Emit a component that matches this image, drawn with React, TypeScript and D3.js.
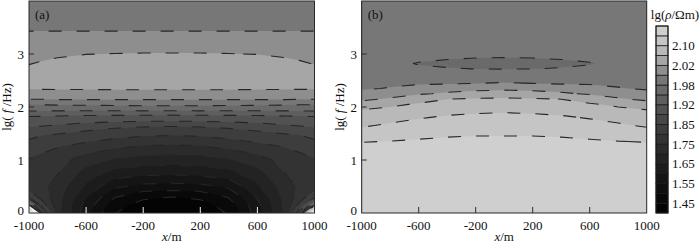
import React from 'react';
import * as d3 from 'd3';

const W = 700;
const H = 244;
const FONT = "'Liberation Serif', 'Times New Roman', serif";

// contour levels lg(rho/Ωm)
const thresholds = [1.40, 1.45, 1.50, 1.55, 1.60, 1.65, 1.70, 1.75, 1.80, 1.85, 1.88, 1.92, 1.95, 1.98, 2.00, 2.02, 2.06, 2.10, 2.14, 2.18];
const bandColors = ['#040404', '#090909', '#0f0f0f', '#151515', '#1c1c1c', '#232323', '#2b2b2b', '#333333', '#3d3d3d', '#474747', '#525252', '#5e5e5e', '#6a6a6a', '#777777', '#8e8e8e', '#a6a6a6', '#b9b9b9', '#c5c5c5', '#cfcfcf'];
const extraThresholds = [2.22, 2.28];
const overColors = ['#dcdcdc', '#e8e8e8', '#f6f6f6'];
const cbLabels = [2.10, 2.02, 1.98, 1.92, 1.85, 1.75, 1.65, 1.55, 1.45];
const xTicks = [-1000, -600, -200, 200, 600, 1000];
const yTicks = [0, 1, 2, 3];

// panel (a): grid rows from lg f = 0 upward, columns x = aX
const aX = [-1000, -900, -800, -600, -400, -200, 0, 200, 400, 600, 800, 900, 1000];
const aY = [0, 0.15, 0.3, 0.5, 0.75, 1.0, 1.25, 1.5, 1.75, 2.0, 2.15, 2.3, 2.5, 2.75, 3.0, 3.25, 3.5, 3.75, 4.0];
const aRows = [
  [2.35, 1.90, 1.72, 1.57, 1.452, 1.415, 1.41, 1.415, 1.455, 1.575, 1.72, 1.90, 2.33],
  [2.00, 1.82, 1.72, 1.58, 1.47, 1.43, 1.425, 1.43, 1.472, 1.585, 1.72, 1.82, 1.99],
  [1.84, 1.775, 1.722, 1.605, 1.502, 1.46, 1.449, 1.46, 1.504, 1.607, 1.722, 1.775, 1.84],
  [1.775, 1.758, 1.732, 1.64, 1.56, 1.535, 1.53, 1.535, 1.562, 1.642, 1.732, 1.758, 1.775],
  [1.765, 1.762, 1.752, 1.68, 1.63, 1.615, 1.61, 1.615, 1.632, 1.682, 1.752, 1.762, 1.765],
  [1.795, 1.785, 1.772, 1.725, 1.695, 1.68, 1.675, 1.68, 1.697, 1.727, 1.772, 1.785, 1.795],
  [1.835, 1.812, 1.802, 1.78, 1.76, 1.745, 1.74, 1.745, 1.762, 1.782, 1.802, 1.812, 1.835],
  [1.862, 1.856, 1.852, 1.84, 1.825, 1.815, 1.81, 1.815, 1.826, 1.841, 1.852, 1.856, 1.862],
  [1.90, 1.898, 1.895, 1.89, 1.888, 1.886, 1.885, 1.886, 1.888, 1.89, 1.895, 1.898, 1.90],
  [1.972, 1.972, 1.973, 1.974, 1.975, 1.976, 1.976, 1.976, 1.975, 1.974, 1.973, 1.972, 1.972],
  [2.001, 2.001, 2.002, 2.002, 2.002, 2.002, 2.002, 2.002, 2.002, 2.002, 2.002, 2.001, 2.001],
  [2.018, 2.018, 2.018, 2.018, 2.018, 2.018, 2.018, 2.018, 2.018, 2.018, 2.018, 2.018, 2.018],
  [2.030, 2.030, 2.031, 2.032, 2.033, 2.033, 2.033, 2.033, 2.033, 2.032, 2.031, 2.030, 2.030],
  [2.022, 2.026, 2.030, 2.036, 2.039, 2.040, 2.040, 2.040, 2.039, 2.036, 2.030, 2.026, 2.022],
  [2.012, 2.014, 2.016, 2.0195, 2.0205, 2.021, 2.021, 2.021, 2.0205, 2.0195, 2.016, 2.014, 2.012],
  [2.008, 2.008, 2.008, 2.008, 2.008, 2.008, 2.008, 2.008, 2.008, 2.008, 2.008, 2.008, 2.008],
  [1.997, 1.997, 1.997, 1.997, 1.997, 1.997, 1.997, 1.997, 1.997, 1.997, 1.997, 1.997, 1.997],
  [1.993, 1.993, 1.993, 1.993, 1.993, 1.993, 1.993, 1.993, 1.993, 1.993, 1.993, 1.993, 1.993],
  [1.991, 1.991, 1.991, 1.991, 1.991, 1.991, 1.991, 1.991, 1.991, 1.991, 1.991, 1.991, 1.991],
];

// panel (b)
const bX = [-1000, -800, -600, -400, -200, 0, 200, 400, 600, 800, 1000];
const bY = [0, 0.5, 1.0, 1.2, 1.35, 1.5, 1.65, 1.8, 1.95, 2.05, 2.15, 2.25, 2.35, 2.45, 2.6, 2.72, 2.82, 2.92, 3.05, 3.3, 3.6, 4.0];
const bRows = [
  [2.165, 2.165, 2.165, 2.165, 2.165, 2.165, 2.165, 2.165, 2.165, 2.165, 2.165],
  [2.165, 2.165, 2.165, 2.165, 2.165, 2.165, 2.165, 2.165, 2.165, 2.165, 2.165],
  [2.165, 2.165, 2.165, 2.165, 2.165, 2.165, 2.165, 2.165, 2.165, 2.165, 2.165],
  [2.151, 2.153, 2.156, 2.159, 2.161, 2.161, 2.161, 2.159, 2.156, 2.153, 2.151],
  [2.1385, 2.1408, 2.144, 2.147, 2.149, 2.149, 2.149, 2.147, 2.144, 2.1408, 2.1385],
  [2.1163, 2.1235, 2.1295, 2.134, 2.136, 2.136, 2.136, 2.134, 2.1295, 2.1235, 2.1163],
  [2.0953, 2.1059, 2.1137, 2.120, 2.122, 2.123, 2.122, 2.120, 2.1137, 2.1059, 2.0953],
  [2.0776, 2.0875, 2.0974, 2.105, 2.108, 2.110, 2.108, 2.105, 2.0974, 2.0875, 2.0776],
  [2.0595, 2.0688, 2.078, 2.087, 2.092, 2.094, 2.092, 2.087, 2.078, 2.0688, 2.0595],
  [2.0314, 2.0514, 2.065, 2.073, 2.078, 2.080, 2.078, 2.073, 2.065, 2.0514, 2.0314],
  [2.0145, 2.0229, 2.0415, 2.0595, 2.064, 2.066, 2.064, 2.0595, 2.0415, 2.0229, 2.0145],
  [2.0055, 2.011, 2.0167, 2.024, 2.032, 2.036, 2.032, 2.024, 2.0167, 2.011, 2.0055],
  [1.998, 2.001, 2.0056, 2.0094, 2.011, 2.0125, 2.011, 2.0094, 2.0056, 2.001, 1.998],
  [1.996, 1.997, 1.998, 1.998, 1.9995, 2.001, 1.9995, 1.998, 1.998, 1.997, 1.996],
  [1.993, 1.993, 1.992, 1.991, 1.99, 1.99, 1.99, 1.991, 1.992, 1.993, 1.993],
  [1.988, 1.986, 1.983, 1.981, 1.9798, 1.9795, 1.9798, 1.981, 1.983, 1.986, 1.988],
  [1.987, 1.984, 1.979, 1.977, 1.9755, 1.975, 1.9755, 1.977, 1.979, 1.984, 1.987],
  [1.988, 1.986, 1.983, 1.981, 1.9798, 1.9795, 1.9798, 1.981, 1.983, 1.986, 1.988],
  [1.989, 1.988, 1.987, 1.986, 1.985, 1.985, 1.985, 1.986, 1.987, 1.988, 1.989],
  [1.989, 1.989, 1.988, 1.988, 1.988, 1.988, 1.988, 1.988, 1.988, 1.989, 1.989],
  [1.99, 1.989, 1.989, 1.989, 1.989, 1.989, 1.989, 1.989, 1.989, 1.989, 1.99],
  [1.99, 1.99, 1.99, 1.99, 1.99, 1.99, 1.99, 1.99, 1.99, 1.99, 1.99],
];

const allThresholds = [...thresholds, ...extraThresholds];
function fillFor(k: number) {
  if (k < bandColors.length) return bandColors[k];
  return overColors[k - bandColors.length];
}

const PLOT_TOP = 1;
const PLOT_BOTTOM = 213;

type PanelProps = {
  id: string; left: number; right: number; xs: number[]; ys: number[]; rows: number[][];
  label: string; bottomTickColor: string; lightLineFrom: number; yLabelX: number; yTitleX: number;
};

function Panel({ id, left, right, xs, ys, rows, label, bottomTickColor, lightLineFrom, yLabelX, yTitleX }: PanelProps) {
  const nx = xs.length, ny = ys.length;
  const values = rows.flat();
  const polys = d3.contours().size([nx, ny]).thresholds(allThresholds)(values);
  const cx = d3.scaleLinear().domain(xs.map((_, i) => i + 0.5)).range(xs);
  const cy = d3.scaleLinear().domain(ys.map((_, i) => i + 0.5)).range(ys);
  const xScale = d3.scaleLinear().domain([-1000, 1000]).range([left, right]);
  const yScale = d3.scaleLinear().domain([0, 4]).range([PLOT_BOTTOM, PLOT_TOP]);
  const proj = d3.geoTransform({
    point(px: number, py: number) {
      (this as any).stream.point(xScale(cx(px)), yScale(cy(py)));
    },
  });
  const path = d3.geoPath(proj as any);
  const clipId = `clip-${id}`;
  const midX = (left + right) / 2;
  return (
    <g>
      <defs>
        <clipPath id={clipId}>
          <rect x={left} y={PLOT_TOP} width={right - left} height={PLOT_BOTTOM - PLOT_TOP} />
        </clipPath>
      </defs>
      <g clipPath={`url(#${clipId})`}>
        <rect x={left} y={PLOT_TOP} width={right - left} height={PLOT_BOTTOM - PLOT_TOP} fill={bandColors[0]} />
        {polys.map((p, k) => (
          <path key={`f${k}`} d={path(p as any) || ''} fill={fillFor(k)} stroke="none" />
        ))}
        {polys.map((p, k) => (
          <path key={`l${k}`} d={path(p as any) || ''} fill="none"
            stroke={allThresholds[k] >= lightLineFrom ? '#f2f2f2' : '#262626'}
            strokeWidth={1.1} strokeDasharray="13 15" />
        ))}
      </g>
      <rect x={left} y={PLOT_TOP} width={right - left} height={PLOT_BOTTOM - PLOT_TOP} fill="none" stroke="#2a2a2a" strokeWidth={1} />
      {xTicks.filter((t) => t > -1000 && t < 1000).map((t) => (
        <line key={`xt${t}`} x1={xScale(t)} x2={xScale(t)} y1={PLOT_BOTTOM} y2={PLOT_BOTTOM - 6} stroke={bottomTickColor} strokeWidth={1} />
      ))}
      {yTicks.filter((t) => t > 0).map((t) => (
        <line key={`yt${t}`} x1={left} x2={left + 5} y1={yScale(t)} y2={yScale(t)} stroke="#2a2a2a" strokeWidth={1} />
      ))}
      {xTicks.map((t) => (
        <text key={`xl${t}`} x={xScale(t)} y={230} textAnchor="middle" fontSize={13} fontFamily={FONT} fill="#111">{t}</text>
      ))}
      {yTicks.map((t) => (
        <text key={`yl${t}`} x={yLabelX} y={yScale(t) + (t === 0 ? 2 : 4.5)} textAnchor="end" fontSize={13} fontFamily={FONT} fill="#111">{t}</text>
      ))}
      <text x={midX} y={241} textAnchor="middle" fontSize={13} fontFamily={FONT} fill="#111">
        <tspan fontStyle="italic">x</tspan>/m
      </text>
      <text transform={`translate(${yTitleX},107) rotate(-90)`} textAnchor="middle" fontSize={13} fontFamily={FONT} fill="#111">
        lg(<tspan fontStyle="italic"> f </tspan>/Hz)
      </text>
      <text x={left + 6} y={19} fontSize={13} fontFamily={FONT} fill="#111">{label}</text>
    </g>
  );
}

function ColorBar() {
  const x0 = 656, w = 12, top = 26, bottom = 213;
  const n = bandColors.length;
  const yk = d3.scaleLinear().domain([0, n]).range([bottom, top]);
  return (
    <g>
      {bandColors.map((c, k) => (
        <rect key={k} x={x0} y={yk(k + 1)} width={w} height={yk(k) - yk(k + 1)} fill={c} stroke="#1a1a1a" strokeWidth={0.8} />
      ))}
      <rect x={x0} y={top} width={w} height={bottom - top} fill="none" stroke="#1a1a1a" strokeWidth={1} />
      {cbLabels.map((v) => {
        const k = thresholds.indexOf(v);
        return (
          <text key={v} x={672} y={yk(k) + 4.5} fontSize={13} fontFamily={FONT} fill="#111">{v.toFixed(2)}</text>
        );
      })}
      <text x={675} y={19} textAnchor="middle" fontSize={13} fontFamily={FONT} fill="#111">
        lg(<tspan fontStyle="italic">ρ</tspan>/Ωm)
      </text>
    </g>
  );
}

export default function App() {
  return (
    <svg width={W} height={H} viewBox={`0 0 ${W} ${H}`} style={{ position: 'absolute', left: 0, top: 0, background: '#fff' }}>
      <rect x={0} y={0} width={W} height={H} fill="#fff" />
      <Panel id="a" left={29} right={314.5} xs={aX} ys={aY} rows={aRows} label="(a)"
        bottomTickColor="#f0f0f0" lightLineFrom={2.06} yLabelX={24} yTitleX={11} />
      <Panel id="b" left={361.7} right={646.7} xs={bX} ys={bY} rows={bRows} label="(b)"
        bottomTickColor="#2a2a2a" lightLineFrom={9} yLabelX={357} yTitleX={343.5} />
      <ColorBar />
    </svg>
  );
}
